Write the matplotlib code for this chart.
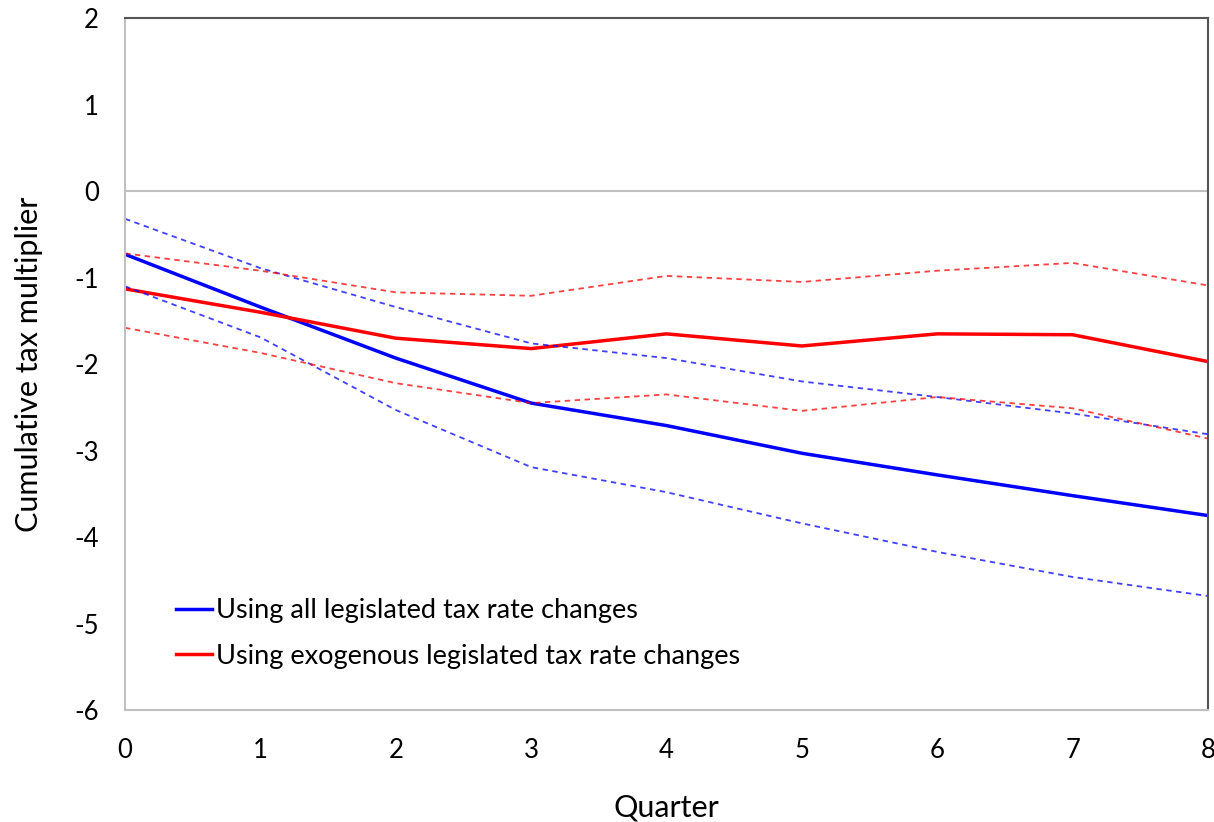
import numpy as np
import matplotlib.pyplot as plt

plt.rcParams['font.family'] = ['Lato', 'DejaVu Sans']
plt.rcParams['axes.unicode_minus'] = False

quarters = [0, 1, 2, 3, 4, 5, 6, 7, 8]

# all legislated tax rate changes: estimate and band
all_mid = [-0.73, -1.34, -1.93, -2.45, -2.71, -3.03, -3.28, -3.52, -3.75]
all_hi = [-0.32, -0.89, -1.34, -1.76, -1.93, -2.20, -2.38, -2.57, -2.81]
all_lo = [-1.10, -1.69, -2.53, -3.19, -3.48, -3.84, -4.17, -4.46, -4.68]

# exogenous legislated tax rate changes: estimate and band
exo_mid = [-1.13, -1.40, -1.70, -1.82, -1.65, -1.79, -1.65, -1.66, -1.97]
exo_hi = [-0.72, -0.92, -1.17, -1.21, -0.98, -1.05, -0.92, -0.83, -1.09]
exo_lo = [-1.58, -1.87, -2.22, -2.45, -2.35, -2.54, -2.38, -2.51, -2.86]

blue = '#0000ff'
red = '#ff0000'

fig = plt.figure(figsize=(12.14, 8.22), dpi=100)
ax = fig.add_axes([0.103, 0.136, 0.892, 0.842])

ax.axhline(0, color='#c0c0c0', lw=1.5, zorder=1)

ax.plot(quarters, all_mid, color=blue, lw=2.5, label='Using all legislated tax rate changes')
ax.plot(quarters, exo_mid, color=red, lw=2.5, label='Using exogenous legislated tax rate changes')
for s in (all_hi, all_lo):
    ax.plot(quarters, s, color=blue, lw=1.3, ls=(0, (3, 2.5)), alpha=0.75)
for s in (exo_hi, exo_lo):
    ax.plot(quarters, s, color=red, lw=1.3, ls=(0, (3, 2.5)), alpha=0.75)

ax.set_xlim(0, 8)
ax.set_ylim(-6, 2)
ax.set_xticks(quarters)
ax.set_yticks(range(-6, 3))
ax.tick_params(length=0, labelsize=18.5)
ax.tick_params(axis='x', pad=20)
ax.tick_params(axis='y', pad=19)

for side in ('left', 'bottom'):
    ax.spines[side].set_color('#c0c0c0')
    ax.spines[side].set_linewidth(1.5)
for side in ('top', 'right'):
    ax.spines[side].set_color('#555555')
    ax.spines[side].set_linewidth(1.5)

ax.set_xlabel('Quarter', fontsize=22, labelpad=22)
ax.set_ylabel('Cumulative tax multiplier', fontsize=22, labelpad=22)

ax.legend(loc='lower left', bbox_to_anchor=(0.025, 0.025), frameon=False,
          fontsize=19.5, handlelength=1.3, handletextpad=0.15, labelspacing=0.75)

fig.savefig('out.png', dpi=100)
